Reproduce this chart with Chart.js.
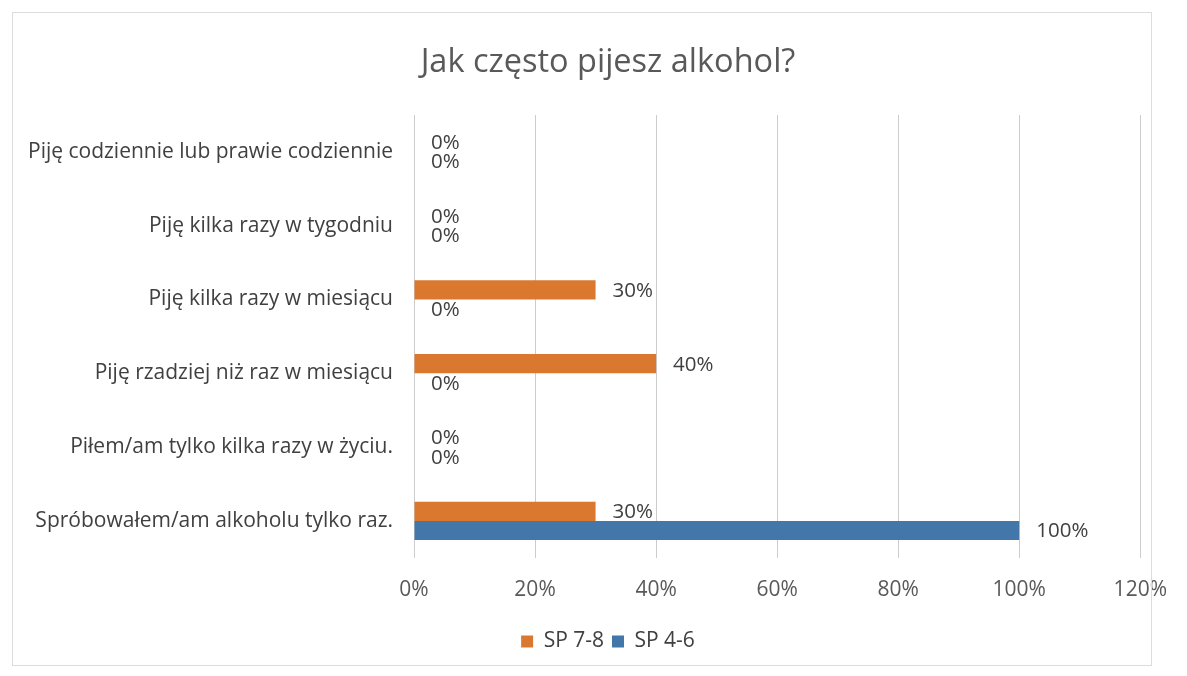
<!DOCTYPE html>
<html>
<head>
<meta charset="utf-8">
<script src="https://cdn.jsdelivr.net/npm/chart.js@4/dist/chart.umd.min.js"></script>
<style>
  html, body { margin: 0; padding: 0; background: #fff; }
  #wrap { position: relative; width: 1187px; height: 676px; }
  #frame { position: absolute; left: 12px; top: 12px; width: 1140px; height: 654px; border: 1px solid #dcdcdc; box-sizing: border-box; pointer-events: none; }
  canvas { display: block; }
</style>
</head>
<body>
<div id="wrap">
  <canvas id="c" width="1187" height="676"></canvas>
  <div id="frame"></div>
</div>
<script>
const titleText = "Jak często pijesz alkohol?";
const categories = [
  "Piję codziennie lub prawie codziennie",
  "Piję kilka razy w tygodniu",
  "Piję kilka razy w miesiącu",
  "Piję rzadziej niż raz w miesiącu",
  "Piłem/am tylko kilka razy w życiu.",
  "Spróbowałem/am alkoholu tylko raz."
];
const seriesNames = ["SP 7-8", "SP 4-6"];
const sp78 = [0, 0, 30, 40, 0, 30];
const sp46 = [0, 0, 0, 0, 0, 100];
const xTicks = [0, 20, 40, 60, 80, 100, 120];

const FONT = "'Open Sans', sans-serif";
const TEXT = "#404040";

const labelPlugin = {
  id: 'barLabels',
  afterLayout(chart) {
    // let the long category labels extend left of the padded area without clipping
    chart.scales.y.left = 0;
  },
  afterDatasetsDraw(chart) {
    const ctx = chart.ctx;
    ctx.save();
    ctx.font = "20.5px " + FONT;
    ctx.fillStyle = TEXT;
    ctx.textAlign = "left";
    ctx.textBaseline = "middle";
    chart.data.datasets.forEach((ds, di) => {
      const meta = chart.getDatasetMeta(di);
      meta.data.forEach((bar, i) => {
        ctx.fillText(ds.data[i] + "%", bar.x + 17, bar.y + 1);
      });
    });
    ctx.restore();
  }
};

new Chart(document.getElementById('c'), {
  type: 'bar',
  data: {
    labels: categories,
    datasets: [
      { label: seriesNames[0], data: sp78, backgroundColor: '#DB7830', categoryPercentage: 0.52, barPercentage: 1.0 },
      { label: seriesNames[1], data: sp46, backgroundColor: '#4377A9', categoryPercentage: 0.52, barPercentage: 1.0 }
    ]
  },
  options: {
    indexAxis: 'y',
    responsive: false,
    animation: false,
    layout: { padding: { left: 74, right: 45, top: 0, bottom: 14 } },
    plugins: {
      title: {
        display: true,
        text: titleText,
        color: '#595959',
        font: { family: FONT, size: 32.5, weight: 'normal' },
        padding: { top: 43, bottom: 33 }
      },
      legend: {
        position: 'bottom',
        labels: {
          color: TEXT,
          font: { family: FONT, size: 21 },
          boxWidth: 12,
          boxHeight: 12,
          padding: 8
        }
      },
      tooltip: { enabled: false }
    },
    scales: {
      x: {
        min: 0, max: 120,
        afterBuildTicks(scale) { scale.ticks = xTicks.map(v => ({ value: v })); },
        ticks: {
          color: '#595959',
          font: { family: FONT, size: 21 },
          padding: 20,
          callback: v => v + '%'
        },
        grid: { color: '#cccccc', drawTicks: false },
        border: { display: false }
      },
      y: {
        afterFit(scale) { scale.width = 340; },
        ticks: {
          color: TEXT,
          font: { family: FONT, size: 21 },
          padding: 21
        },
        grid: { display: false, drawTicks: false },
        border: { display: false }
      }
    }
  },
  plugins: [labelPlugin]
});
</script>
</body>
</html>
